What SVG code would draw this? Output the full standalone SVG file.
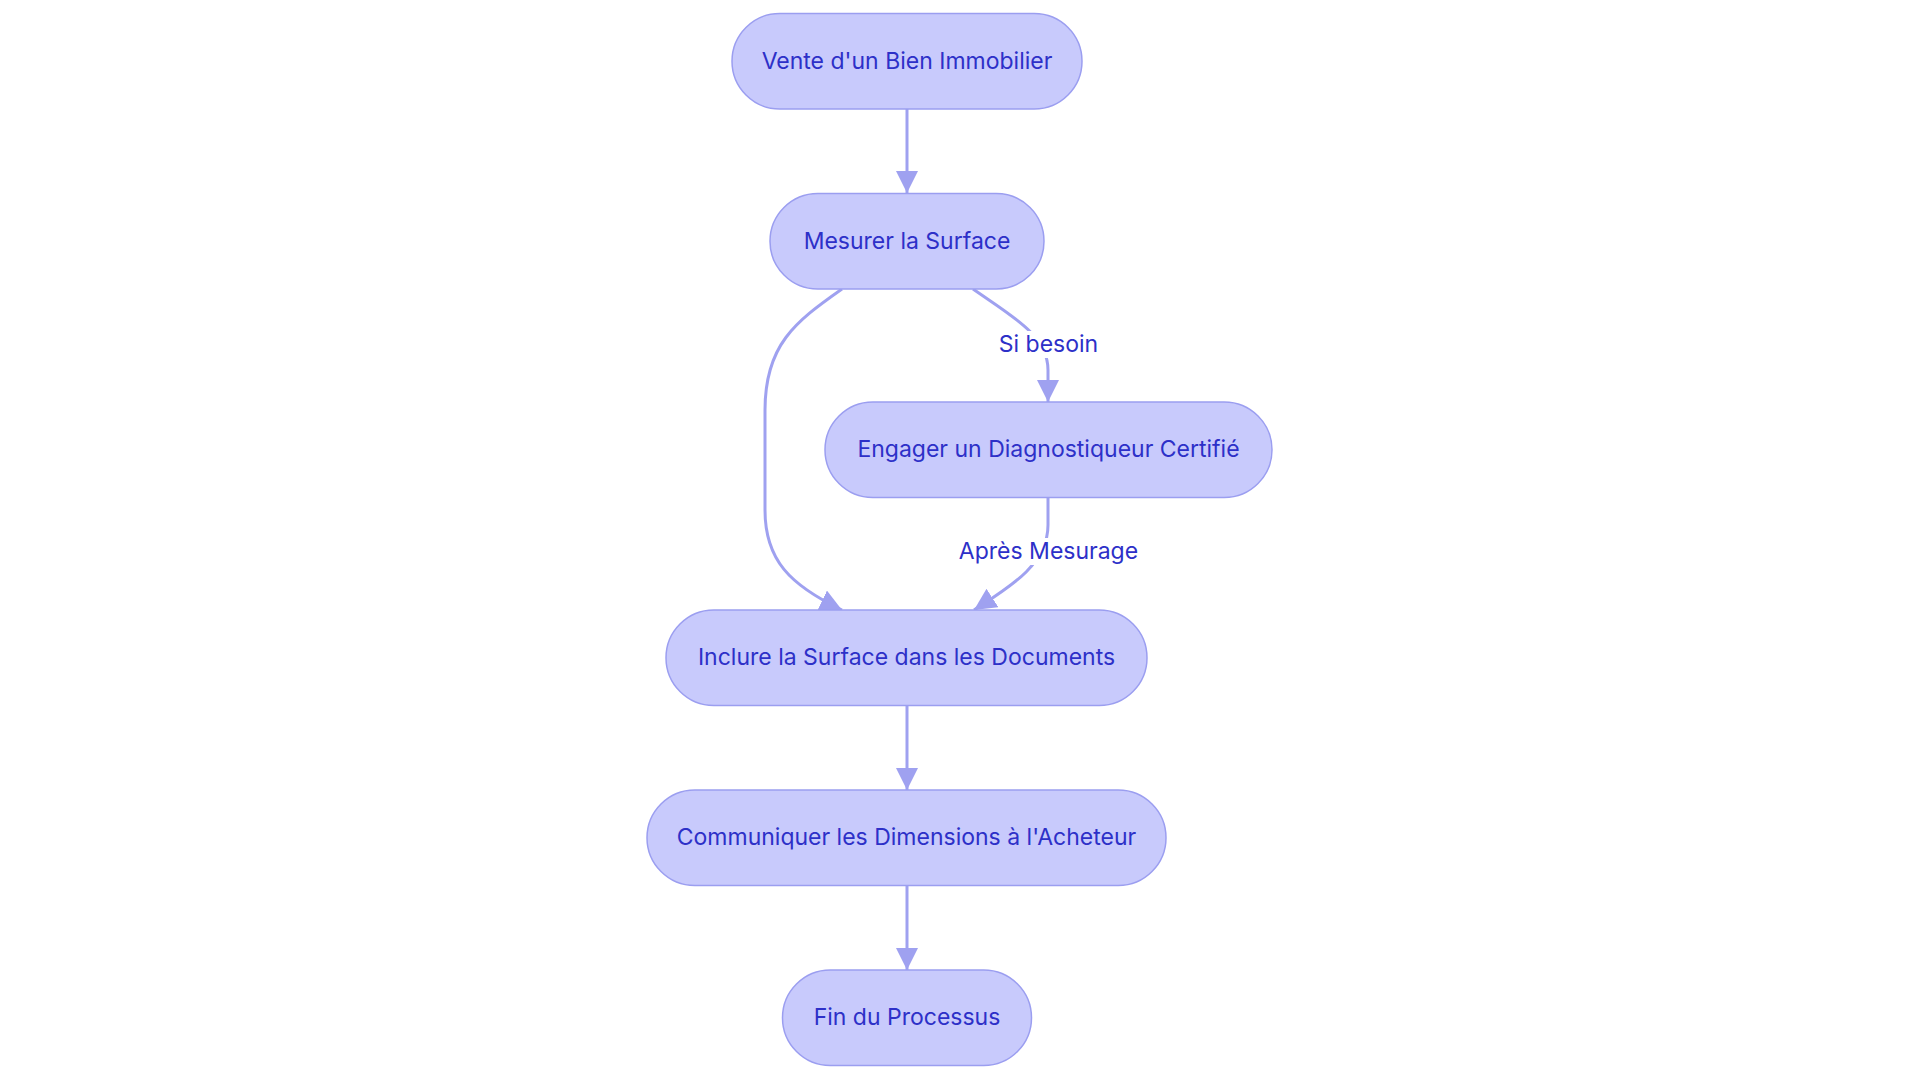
<svg xmlns="http://www.w3.org/2000/svg" width="1920" height="1083" viewBox="0 0 1920 1083">
<style>
.node rect{fill:#c8cafc;stroke:#9b9ef0;stroke-width:1.5}
.node text,.lbl text{font-family:Inter,"Noto Sans","Liberation Sans",sans-serif;font-size:23px;fill:#2d30c8;text-anchor:middle}
.edge{fill:none;stroke:#9fa1f0;stroke-width:3}
.lbl rect{fill:#ffffff}
</style>
<defs>
<marker id="arr" markerUnits="userSpaceOnUse" markerWidth="22" markerHeight="22" refX="20" refY="10" orient="auto" viewBox="0 0 20 20">
<path d="M0,0 L20,10 L0,20 z" fill="#9fa1f0"/>
</marker>
</defs>
<rect width="1920" height="1083" fill="#ffffff"/>
<g id="connectors">
<path class="edge" d="M907,109 L907,193" marker-end="url(#arr)"/>
<path class="edge" d="M842,289 C795,322 765,345 765,410 L765,510 C765,560 790,585 842,610" marker-end="url(#arr)"/>
<path class="edge" d="M973,289 C1010,315 1048,335 1048,370 L1048,402" marker-end="url(#arr)"/>
<path class="edge" d="M1048,497 L1048,525 C1048,565 1008,588 974,610" marker-end="url(#arr)"/>
<path class="edge" d="M907,705 L907,790" marker-end="url(#arr)"/>
<path class="edge" d="M907,885 L907,970" marker-end="url(#arr)"/>
<g class="lbl" id="label-si-besoin">
<rect x="997" y="331" width="103" height="27"/>
<text x="1048.5" y="352">Si besoin</text>
</g>
<g class="lbl" id="label-apres">
<rect x="956" y="538" width="184" height="27"/>
<text x="1048.5" y="559">Après Mesurage</text>
</g>
</g>
<g class="node" id="n1">
<rect x="732" y="13.5" width="350" height="95.5" rx="47.75"/>
<text x="907" y="68.5">Vente d'un Bien Immobilier</text>
</g>
<g class="node" id="n2">
<rect x="770" y="193.5" width="274" height="95.5" rx="47.75"/>
<text x="907" y="248.5">Mesurer la Surface</text>
</g>
<g class="node" id="n3">
<rect x="825" y="402" width="447" height="95.5" rx="47.75"/>
<text x="1048.5" y="457">Engager un Diagnostiqueur Certifié</text>
</g>
<g class="node" id="n4">
<rect x="666" y="610" width="481" height="95.5" rx="47.75"/>
<text x="906.5" y="665">Inclure la Surface dans les Documents</text>
</g>
<g class="node" id="n5">
<rect x="647" y="790" width="519" height="95.5" rx="47.75"/>
<text x="906.5" y="845">Communiquer les Dimensions à l'Acheteur</text>
</g>
<g class="node" id="n6">
<rect x="782.5" y="970" width="249" height="95.5" rx="47.75"/>
<text x="907" y="1025">Fin du Processus</text>
</g>
</svg>
